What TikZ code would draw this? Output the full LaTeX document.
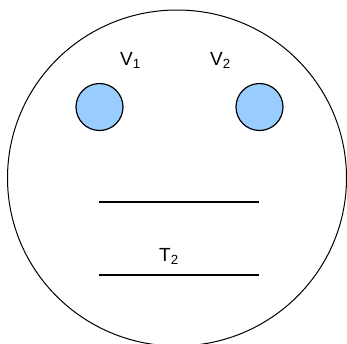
\documentclass[tikz,border=0pt]{standalone}
\usepackage{fontspec}
\setmainfont{Liberation Sans}
\usetikzlibrary{shapes.geometric}
\definecolor{eyeblue}{HTML}{99CCFF}
\begin{document}
\begin{tikzpicture}[x=1pt,y=-1pt,
  face/.style={draw=black,line width=1pt,ellipse,minimum width=339pt,minimum height=336pt,inner sep=0pt,outer sep=0pt},
  eye/.style={draw=black,fill=eyeblue,line width=1.2pt,circle,minimum size=47pt,inner sep=0pt},
  lbl/.style={anchor=base west,inner sep=0pt,font=\fontsize{19}{22}\selectfont},
  bar/.style={line width=1.5pt}]
\useasboundingbox (0,0) rectangle (347,343);
\node[face] (face) at (177,178) {};
\node[eye] (eyeL) at (99.5,107) {};
\node[eye] (eyeR) at (259.5,107) {};
\node[lbl] (v1) at (120,65) {V\textsubscript{1}};
\node[lbl] (v2) at (210,65) {V\textsubscript{2}};
\node[lbl] (t2) at (159,261) {T\textsubscript{2}};
\coordinate (a1) at (99,202);
\coordinate (a2) at (259,202);
\coordinate (b1) at (99,275);
\coordinate (b2) at (259,275);
\draw[bar] (a1) -- (a2);
\draw[bar] (b1) -- (b2);
\end{tikzpicture}
\end{document}
